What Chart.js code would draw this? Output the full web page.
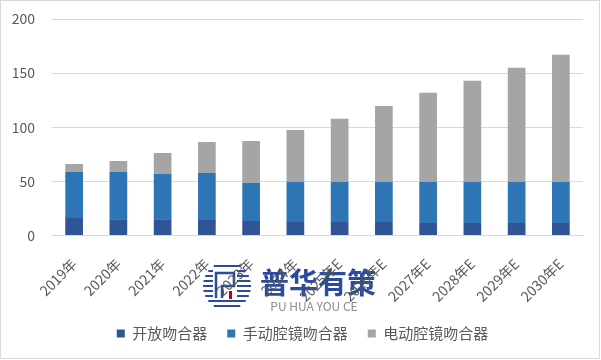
<!DOCTYPE html>
<html>
<head>
<meta charset="utf-8">
<script src="https://cdn.jsdelivr.net/npm/chart.js@4/dist/chart.umd.min.js"></script>
<style>
	html, body { margin: 0; padding: 0; background: #fff; }
	#wrap { width: 601px; height: 360px; position: relative; }
</style>
</head>
<body>
<div id="wrap"><canvas id="myChart" width="601" height="360"></canvas></div>
<script>
const years = ['2019年', '2020年', '2021年', '2022年', '2023年', '2024年', '2025年E', '2026年E', '2027年E', '2028年E', '2029年E', '2030年E'];
const openStapler = [16, 15, 15, 14.2, 13.3, 12.3, 12.3, 12.3, 11.4, 11.4, 11.4, 11.4];
const manualScope = [42.6, 43.6, 41.8, 43.5, 35.2, 37.1, 37.1, 37.1, 38, 38, 38, 38];
const electricScope = [7.4, 10.2, 19.4, 28.7, 38.8, 48.1, 58.3, 70.3, 82.4, 93.5, 105.5, 117.5];
const yTicks = [0, 50, 100, 150, 200];

const fontFamily = '"Noto Sans CJK SC", "Noto Sans", sans-serif';

// frame on top, watermark under the axis labels
const extras = {
	id: 'extras',
	afterLayout(chart) {
		// legend sits a little right of the canvas centre in the original
		if (chart.legend) {
			chart.legend.left += 11;
			chart.legend.right += 11;
		}
	},
	beforeDraw(chart) {
		const c = chart.ctx;
		c.save();
		c.fillStyle = '#fff';
		c.beginPath();
		c.arc(227, 286, 24, 0, Math.PI * 2);
		c.fill();
		c.strokeStyle = '#2b4c9b';
		c.lineWidth = 2;
		for (let dy = -20; dy <= 20; dy += 5) {
			const half = Math.sqrt(24 * 24 - dy * dy);
			c.beginPath();
			c.moveTo(227 - half, 286 + dy);
			c.lineTo(227 + half, 286 + dy);
			c.stroke();
		}
		c.fillStyle = '#fff';
		c.fillRect(213, 270, 24, 30);
		c.lineWidth = 2.5;
		c.beginPath();
		c.moveTo(216, 298); c.lineTo(216, 273); c.lineTo(234, 273); c.lineTo(234, 286); c.lineTo(222, 286); c.lineTo(222, 298);
		c.stroke();
		c.fillStyle = '#c00000';
		c.fillRect(229, 291, 3, 8);

		c.fillStyle = '#2b4c9b';
		c.font = 'bold 29px ' + fontFamily;
		c.textBaseline = 'middle';
		c.textAlign = 'left';
		c.fillText('普华有策', 260, 283);
		c.fillStyle = '#8c8c8c';
		c.font = '12px ' + fontFamily;
		c.textAlign = 'center';
		c.fillText('PU HUA YOU CE', 314, 306);
		c.restore();
	},
	afterDraw(chart) {
		const c = chart.ctx;
		c.save();
		c.strokeStyle = '#d9d9d9';
		c.lineWidth = 1;
		c.strokeRect(0.5, 0.5, 599, 358);
		c.restore();
	}
};

let ctx = document.getElementById('myChart').getContext('2d');

let myChart = new Chart(ctx, {
	type: 'bar',
	data: {
		labels: years,
		datasets: [{
			label: '开放吻合器',
			backgroundColor: '#2f5597',
			data: openStapler
		}, {
			label: '手动腔镜吻合器',
			backgroundColor: '#2e75b6',
			data: manualScope
		}, {
			label: '电动腔镜吻合器',
			backgroundColor: '#a5a5a5',
			data: electricScope
		}]
	},
	options: {
		responsive: false,
		animation: false,
		layout: { padding: { left: 0, right: 18, top: 19, bottom: 9 } },
		datasets: { bar: { categoryPercentage: 0.8, barPercentage: 0.5 } },
		scales: {
			x: {
				stacked: true,
				grid: { display: false, drawTicks: false },
				border: { color: '#d9d9d9' },
				// labels overlap the legend gap a bit, like the original
				afterFit: scale => {
					scale.height -= 19;
					scale.paddingLeft = 0;
					scale.paddingRight = 0;
				},
				ticks: {
					color: '#595959',
					font: { family: fontFamily, size: 14 },
					minRotation: 45,
					maxRotation: 45,
					padding: 20
				}
			},
			y: {
				stacked: true,
				min: 0,
				max: 200,
				afterBuildTicks: axis => { axis.ticks = yTicks.map(v => ({ value: v })); },
				afterFit: scale => {
					scale.width = 52;
					scale.paddingTop = 0;
					scale.paddingBottom = 0;
				},
				grid: { color: '#d9d9d9', drawTicks: false },
				border: { display: false },
				ticks: {
					color: '#595959',
					font: { family: fontFamily, size: 14 },
					padding: 17
				}
			}
		},
		plugins: {
			legend: {
				position: 'bottom',
				labels: {
					color: '#595959',
					font: { family: fontFamily, size: 15 },
					boxWidth: 8,
					boxHeight: 8,
					padding: 20
				}
			},
			tooltip: { enabled: false }
		}
	},
	plugins: [extras]
});
</script>
</body>
</html>
